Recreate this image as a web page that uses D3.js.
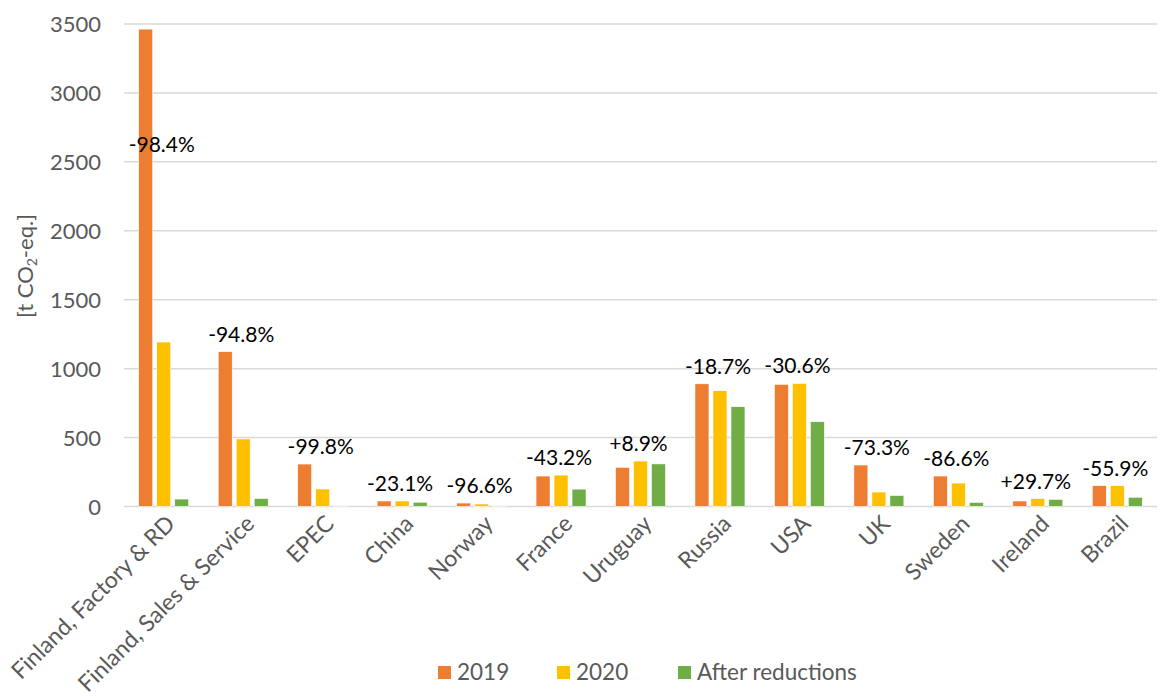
<!DOCTYPE html>
<html>
<head>
<meta charset="utf-8">
<script src="https://cdn.jsdelivr.net/npm/d3@7"></script>
<style>
  html, body { margin: 0; padding: 0; background: #fff; }
  svg { display: block; font-family: Lato, "Open Sans", sans-serif; }
</style>
</head>
<body>
<svg id="chart" width="1165" height="698"></svg>
<script>
// Emissions per site, t CO2-eq.
const categories = ["Finland, Factory & RD", "Finland, Sales & Service", "EPEC", "China", "Norway",
  "France", "Uruguay", "Russia", "USA", "UK", "Sweden", "Ireland", "Brazil"];
const seriesNames = ["2019", "2020", "After reductions"];
const values2019 = [3463, 1123, 308, 40, 25, 221, 284, 890, 886, 301, 221, 40, 151];
const values2020 = [1193, 490, 127, 40, 18, 228, 330, 840, 893, 105, 170, 57, 151];
const valuesAfter = [54, 58, 0.6, 31, 0.9, 126, 309, 724, 615, 80, 30, 52, 67];
const changeLabels = ["-98.4%", "-94.8%", "-99.8%", "-23.1%", "-96.6%", "-43.2%", "+8.9%",
  "-18.7%", "-30.6%", "-73.3%", "-86.6%", "+29.7%", "-55.9%"];
const yTicks = [0, 500, 1000, 1500, 2000, 2500, 3000, 3500];

const colors = ["#ED7D31", "#FFC000", "#70AD47"];
const seriesValues = [values2019, values2020, valuesAfter];

const svg = d3.select("#chart");
const plot = { left: 124, right: 1157, top: 24, bottom: 506.5 };

const y = d3.scaleLinear().domain([0, 3500]).range([plot.bottom, plot.top]);
const x0 = d3.scaleBand().domain(categories).range([plot.left, plot.right]).paddingInner(0).paddingOuter(0);
const x1 = d3.scaleBand().domain(seriesNames).range([-25, 25]).paddingInner(4 / 18).paddingOuter(0);

// Gridlines
svg.append("g").selectAll("line").data(yTicks).join("line")
  .attr("x1", plot.left).attr("x2", plot.right)
  .attr("y1", d => y(d)).attr("y2", d => y(d))
  .attr("stroke", "#D9D9D9").attr("stroke-width", 1.5);

// Y tick labels
const yAxis = d3.axisLeft(y).tickValues(yTicks).tickFormat(d3.format("d")).tickSize(0).tickPadding(0);
const gy = svg.append("g").attr("transform", `translate(${plot.left - 23},0)`).call(yAxis);
gy.select(".domain").remove();
gy.selectAll("text").attr("font-family", "Lato, sans-serif").attr("font-size", 22)
  .attr("fill", "#595959").attr("dy", "0.35em");

// Y axis title
svg.append("text")
  .attr("transform", "translate(33,266) rotate(-90)")
  .attr("text-anchor", "middle")
  .attr("font-size", 22).attr("fill", "#595959")
  .html('[t CO<tspan font-size="14" dy="4">2</tspan><tspan dy="-4">-eq.]</tspan>');

// Bars
const groups = svg.append("g").selectAll("g").data(categories).join("g")
  .attr("transform", d => `translate(${x0(d) + x0.bandwidth() / 2},0)`);

groups.selectAll("rect")
  .data((c, i) => seriesNames.map((s, k) => ({ s, k, v: seriesValues[k][i] })))
  .join("rect")
  .attr("x", d => x1(d.s))
  .attr("width", x1.bandwidth())
  .attr("y", d => y(d.v))
  .attr("height", d => y(0) - y(d.v))
  .attr("fill", d => colors[d.k])
  .attr("stroke", "#fff").attr("stroke-width", 0.6);

// Change labels above each group (kept inside the chart area for the tallest group)
const labelCap = 2500;
groups.append("text")
  .attr("text-anchor", "middle")
  .attr("x", -2)
  .attr("y", (c, i) => y(Math.min(labelCap, d3.max(seriesValues, s => s[i]))) - 10)
  .attr("font-size", 21).attr("fill", "#000")
  .text((c, i) => changeLabels[i]);

// Category labels, rotated
svg.append("g").selectAll("text").data(categories).join("text")
  .attr("transform", d => `translate(${x0(d) + x0.bandwidth() / 2 + 7},${plot.bottom + 13}) rotate(-45)`)
  .attr("text-anchor", "end")
  .attr("dy", "0.35em")
  .attr("font-size", 23).attr("fill", "#595959")
  .text(d => d);

// Legend
const legendX = [438, 557, 678];
const legend = svg.append("g").selectAll("g").data(seriesNames).join("g")
  .attr("transform", (d, i) => `translate(${legendX[i]},672)`);
legend.append("rect").attr("x", 0).attr("y", -6).attr("width", 13).attr("height", 13)
  .attr("fill", (d, i) => colors[i]);
legend.append("text").attr("x", 19).attr("y", 0).attr("dy", "0.35em")
  .attr("font-size", 22.5).attr("fill", "#595959").text(d => d);
</script>
</body>
</html>
